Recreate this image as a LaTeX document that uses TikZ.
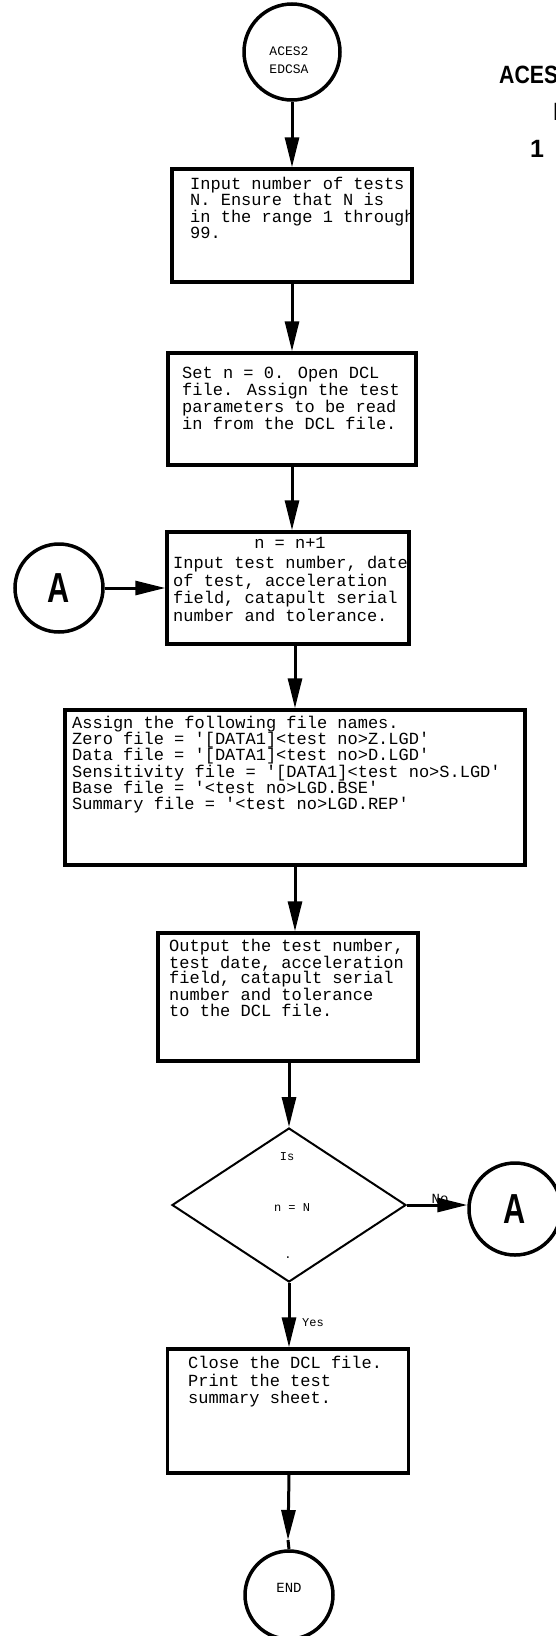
\documentclass[tikz,border=0pt]{standalone}
\usepackage{fontspec}
\usetikzlibrary{arrows.meta,shapes.geometric,calc}
\newfontfamily\prmono{Liberation Mono}
\newfontfamily\prsans{Liberation Sans}
\tikzset{
  conn/.style={line width=3pt},
  arr/.style={conn,-{Triangle[length=30pt,width=14pt]}},
  procbox/.style={draw,line width=3.5pt,rectangle,inner sep=0pt},
  term/.style={draw,line width=3.5pt,circle,inner sep=0pt,minimum size=#1},
  txt/.style={font=\prmono\fontsize{17}{#1}\selectfont,align=left,anchor=north west,inner sep=0pt},
  small/.style={font=\prmono\fontsize{12}{13}\selectfont,inner sep=0pt},
  connlabel/.style={font=\prsans\bfseries\fontsize{42}{42}\selectfont,inner sep=0pt},
  heading/.style={font=\prsans\bfseries\fontsize{25}{25}\selectfont,inner sep=0pt,anchor=base west}
}
\begin{document}
\begin{tikzpicture}[x=1pt,y=-1pt]
\useasboundingbox (0,0) rectangle (556,1636);
\fill[white] (0,0) rectangle (556,1636);

% heading at the upper right
\node[heading] (h1) at (499,83) {\scalebox{0.85}[1]{ACES}};
\node[heading] (h2) at (553,120) {I};
\node[heading] (h3) at (530,157) {1};

% terminals, process boxes and the decision
\node[term=96pt] (start) at (292,52) {};
\node[small,font=\prmono\fontsize{13}{18}\selectfont,align=center] (startt) at (289,60) {ACES2\\EDCSA};

\node[procbox,minimum width=240pt,minimum height=113pt] (b1) at (292,225.5) {};
\node[txt=16.3pt] (t1) at (190,177) {Input number of tests\\N.  Ensure that N is\\in the range 1 through\\99.};

\node[procbox,minimum width=248pt,minimum height=112pt] (b2) at (292,409) {};
\node[txt=17pt] (t2) at (182,367) {Set n = 0.  Open DCL\\file.  Assign the test\\parameters to be read\\in from the DCL file.};

\node[procbox,minimum width=242pt,minimum height=112pt] (b3) at (288,588) {};
\node[txt=17.6pt,anchor=center] (t3a) at (290,543) {n = n+1};
\node[txt=17.6pt] (t3) at (173,556) {Input test number, date\\of test, acceleration\\field, catapult serial\\number and tolerance.};

\node[term=88pt] (Al) at (59,588) {};
\node[connlabel] (Alt) at (59,588) {\scalebox{0.73}[1]{A}};

\node[procbox,minimum width=460pt,minimum height=155pt] (b4) at (295,787.5) {};
\node[txt=16.2pt] (t4) at (72,716) {Assign the following file names.\\Zero file = '[DATA1]<test no>Z.LGD'\\Data file = '[DATA1]<test no>D.LGD'\\Sensitivity file = '[DATA1]<test no>S.LGD'\\Base file = '<test no>LGD.BSE'\\Summary file = '<test no>LGD.REP'};

\node[procbox,minimum width=260pt,minimum height=128pt] (b5) at (288,997) {};
\node[txt=15.5pt] (t5) at (169,939) {Output the test number,\\test date, acceleration\\field, catapult serial\\number and tolerance\\to the DCL file.};

\node[draw,line width=2pt,diamond,inner sep=0pt,minimum width=234pt,minimum height=154pt] (dia) at (289,1205) {};
\node[small] (d1) at (287,1157) {Is};
\node[small] (d2) at (292,1208) {n = N};
\node[small] (d3) at (288,1258) {.};

\node[term=92pt] (Ar) at (515,1209) {};
\node[connlabel] (Art) at (515,1209) {\scalebox{0.73}[1]{A}};

\node[procbox,minimum width=241pt,minimum height=124pt] (b7) at (288,1411) {};
\node[txt=17.5pt] (t7) at (188,1356) {Close the DCL file.\\Print the test\\summary sheet.};

\node[term=88pt] (end) at (289,1595) {};
\node[small,font=\prmono\fontsize{14}{14}\selectfont] (endt) at (289,1588) {END};

\coordinate (tipE) at (288,1540);

% connectors
\draw[arr] (start.south) -- (start.south |- b1.north);
\draw[arr] (b1.south) -- (b1.south |- b2.north);
\draw[arr] (b2.south) -- (b2.south |- b3.north);
\draw[arr] (Al.east) -- (b3.west);
\draw[arr] (b4.north |- b3.south) -- (b4.north);
\draw[arr] (b4.south) -- (b4.south |- b5.north);
\draw[arr] (b5.south -| dia.north) -- (dia.north);
\draw[arr] (dia.east) -- (dia.east -| Ar.west);
\node[small,font=\prmono\fontsize{14}{14}\selectfont,anchor=south] (no) at (440,1204) {No};
\draw[arr] (dia.south) -- (dia.south |- b7.north);
\node[small,anchor=west] (yes) at (302,1323) {Yes};
\draw[arr] (b7.south -| end.north) -- (tipE);
\draw[conn] (tipE) -- (end.north);
\end{tikzpicture}
\end{document}
